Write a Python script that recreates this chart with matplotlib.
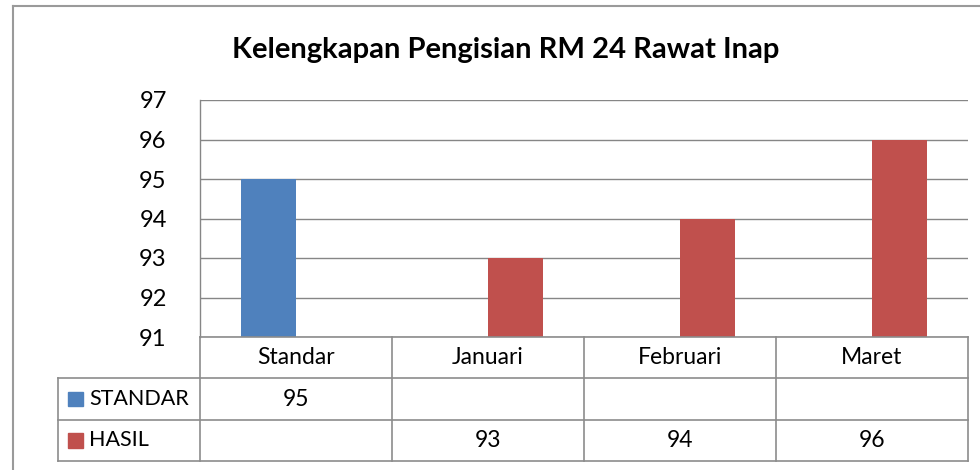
import matplotlib
matplotlib.use('Agg')
import matplotlib.pyplot as plt
from matplotlib.patches import Rectangle
from matplotlib.lines import Line2D

categories = ['Standar', 'Januari', 'Februari', 'Maret']
series_names = ['STANDAR', 'HASIL']
standar = [95, None, None, None]
hasil = [None, 93, 94, 96]
yticks = [91, 92, 93, 94, 95, 96, 97]
colors = ['#4F81BD', '#C0504D']

W, H = 980, 470
fig = plt.figure(figsize=(W / 100, H / 100), dpi=100)
plt.rcParams['font.family'] = ['Lato', 'DejaVu Sans']

def px(x0, y0, x1, y1):
    # pixel box (top-left origin) -> figure fraction
    return [x0 / W, 1 - y1 / H, (x1 - x0) / W, (y1 - y0) / H]

grid_c = '#868686'
line_c = '#8C8C8C'

# outer chart border (cropped on right and bottom)
fig.add_artist(Line2D([13 / W, 1], [1 - 6 / H, 1 - 6 / H], color='#9A9A9A', lw=1.5))
fig.add_artist(Line2D([13 / W, 13 / W], [0, 1 - 6 / H], color='#9A9A9A', lw=1.5))

fig.text(506 / W, 1 - 50 / H, 'Kelengkapan Pengisian RM 24 Rawat Inap',
         ha='center', va='center', fontsize=21, fontweight='bold')

# plot area
ax = fig.add_axes(px(200, 100, 968, 337))
bw = 55 / 192
for i, (name, vals) in enumerate(zip(series_names, [standar, hasil])):
    for j, v in enumerate(vals):
        if v is None:
            continue
        ax.bar(j + (i - 0.5) * bw, v - yticks[0], bottom=yticks[0], width=bw,
               color=colors[i], zorder=3)
ax.set_xlim(-0.5, len(categories) - 0.5)
ax.set_ylim(yticks[0], yticks[-1])
ax.set_yticks(yticks)
ax.set_yticklabels([str(t) for t in yticks], fontsize=17)
ax.tick_params(axis='y', length=0, pad=24)
ax.set_xticks([])
for t in yticks:
    ax.axhline(t, color=grid_c, lw=1.0, zorder=1)
for s in ['top', 'right', 'bottom']:
    ax.spines[s].set_visible(False)
ax.spines['left'].set_color(grid_c)
ax.spines['left'].set_linewidth(1.0)

# data table
lead = 142 / 192
tab = fig.add_axes(px(58, 337, 968, 461))
tab.set_xlim(-0.5 - lead, len(categories) - 0.5)
tab.set_ylim(3, 0)
tab.axis('off')
n = len(categories)
kw = dict(color=line_c, lw=1.2, clip_on=False)
# horizontal lines
tab.plot([-0.5, n - 0.5], [0, 0], **kw)
for r in [1, 2, 3]:
    tab.plot([-0.5 - lead, n - 0.5], [r, r], **kw)
# vertical lines
tab.plot([-0.5 - lead, -0.5 - lead], [1, 3], **kw)
for c in range(n + 1):
    tab.plot([c - 0.5, c - 0.5], [0, 3], **kw)
for j, cat in enumerate(categories):
    tab.text(j, 0.5, cat, ha='center', va='center', fontsize=16.5)
for i, (name, vals) in enumerate(zip(series_names, [standar, hasil])):
    row = i + 1.5
    tab.add_patch(Rectangle((-0.5 - lead + 10 / 192, row - 0.18), 15 / 192, 0.36,
                            color=colors[i], clip_on=False))
    tab.text(-0.5 - lead + 31 / 192, row, name, ha='left', va='center', fontsize=15.5)
    for j, v in enumerate(vals):
        if v is not None:
            tab.text(j, row, str(v), ha='center', va='center', fontsize=16.5)

fig.savefig('out.png', dpi=100)
